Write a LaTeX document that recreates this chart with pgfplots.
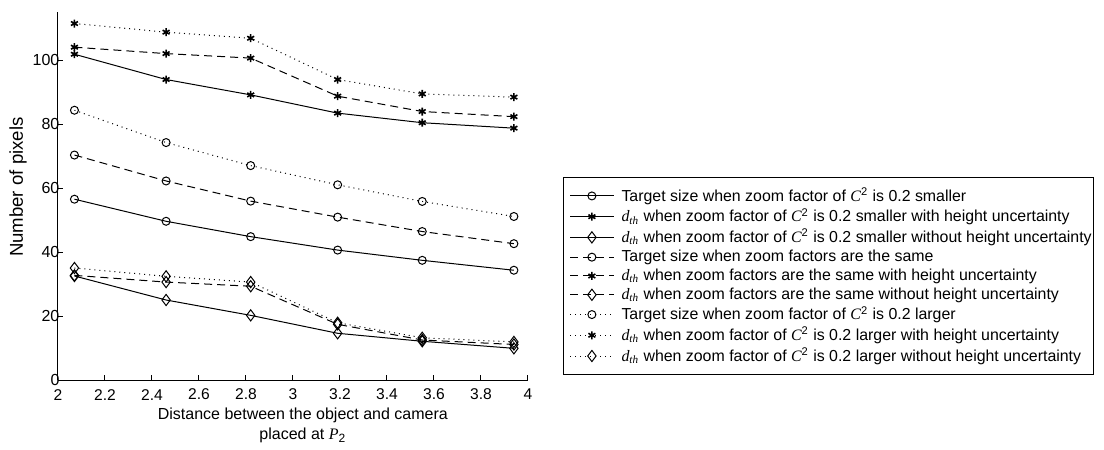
\documentclass[border=0pt]{standalone}
\usepackage{pgfplots}
\pgfplotsset{compat=1.18}
\usepackage{pgfplotstable}
\usepackage{fontspec}
\setmainfont{Liberation Sans}
\newfontfamily\tms{Liberation Serif}
\newcommand\dth{{\tms\itshape d}\textsubscript{\tms\itshape th}}
\newcommand\Ctwo{{\tms\itshape C}\textsuperscript{2}}
\pgfplotstableread{
x     a     b     c     d     e     f     g     h     i
2.07  56.5  101.8 32.5  70.3  104.0 32.7  84.3  111.4 35.0
2.46  49.6  93.9  25.0  62.2  102.0 30.6  74.2  108.7 32.4
2.82  44.8  89.1  20.2  55.9  100.6 29.3  67.0  106.8 30.6
3.19  40.6  83.4  14.6  50.9  88.7  17.4  61.0  93.9  17.9
3.55  37.4  80.4  12.1  46.4  83.9  12.5  55.8  89.4  13.2
3.94  34.3  78.7  9.9   42.6  82.3  11.1  51.1  88.4  11.9
}\data
\begin{document}
\begin{tikzpicture}
\path (0,0) rectangle (552pt,220pt);
\begin{axis}[
  at={(29pt,30pt)}, anchor=south west,
  scale only axis, width=235pt, height=184pt,
  xmin=2, xmax=4, ymin=0, ymax=115,
  axis x line=bottom, axis y line=left, axis line style={-, line width=0.5pt},
  xtick={2,2.2,...,4.01}, ytick={0,20,...,100},
  tick align=inside, major tick length=2.5pt,
  tick style={line width=0.5pt, black},
  /pgf/number format/assume math mode=true,
  xticklabel style={font=\fontsize{7.8}{9}\selectfont, anchor=center, yshift=-7.3pt},
  yticklabel style={font=\fontsize{8}{9}\selectfont, inner xsep=0.6pt, xshift=1.5pt},
  xlabel={Distance between the object and camera\\placed at {\tms\itshape P}\textsubscript{2}},
  xlabel style={font=\fontsize{8}{10}\selectfont, align=center,
    at={(axis description cs:0.521,-0.124)}, anchor=center},
  ylabel={Number of pixels},
  ylabel style={font=\fontsize{9.3}{10}\selectfont,
    at={(axis description cs:-0.085,0.524)}, anchor=center},
  every axis plot/.append style={line width=0.5pt, black},
  legend cell align=left,
  legend style={at={(1.074,0.551)}, anchor=north west, draw=black, line width=0.5pt,
    font=\fontsize{7.95}{9}\selectfont, row sep=-1.85pt,
    inner xsep=0.5pt, inner ysep=3pt, nodes={inner xsep=0.5pt}},
  legend image code/.code={%
    \path[draw=none] (-3pt,0) -- (0.76cm+3.5pt,0);
    \draw[mark repeat=2,mark phase=2] plot coordinates {(0cm,0cm) (0.38cm,0cm) (0.76cm,0cm)};},
]
\addplot[solid, mark=o, mark size=2pt, mark options={solid}] table[x=x,y=a]{\data};
\addlegendentry{Target size when zoom factor of \Ctwo{} is 0.2 smaller}
\addplot[solid, mark=asterisk, mark size=2pt, mark options={solid, line width=0.8pt}] table[x=x,y=b]{\data};
\addlegendentry{\dth{} when zoom factor of \Ctwo{} is 0.2 smaller with height uncertainty}
\addplot[solid, mark=diamond, mark size=2.8pt, mark options={solid}] table[x=x,y=c]{\data};
\addlegendentry{\dth{} when zoom factor of \Ctwo{} is 0.2 smaller without height uncertainty}
\addplot[dash pattern=on 4pt off 2.5pt, mark=o, mark size=2pt, mark options={solid}] table[x=x,y=d]{\data};
\addlegendentry{Target size when zoom factors are the same}
\addplot[dash pattern=on 4pt off 2.5pt, mark=asterisk, mark size=2pt, mark options={solid, line width=0.8pt}] table[x=x,y=e]{\data};
\addlegendentry{\dth{} when zoom factors are the same with height uncertainty}
\addplot[dash pattern=on 4pt off 2.5pt, mark=diamond, mark size=2.8pt, mark options={solid}] table[x=x,y=f]{\data};
\addlegendentry{\dth{} when zoom factors are the same without height uncertainty}
\addplot[dash pattern=on 0.5pt off 2pt, mark=o, mark size=2pt, mark options={solid}] table[x=x,y=g]{\data};
\addlegendentry{Target size when zoom factor of \Ctwo{} is 0.2 larger}
\addplot[dash pattern=on 0.5pt off 2pt, mark=asterisk, mark size=2pt, mark options={solid, line width=0.8pt}] table[x=x,y=h]{\data};
\addlegendentry{\dth{} when zoom factor of \Ctwo{} is 0.2 larger with height uncertainty}
\addplot[dash pattern=on 0.5pt off 2pt, mark=diamond, mark size=2.8pt, mark options={solid}] table[x=x,y=i]{\data};
\addlegendentry{\dth{} when zoom factor of \Ctwo{} is 0.2 larger without height uncertainty}
\end{axis}
\end{tikzpicture}
\end{document}
